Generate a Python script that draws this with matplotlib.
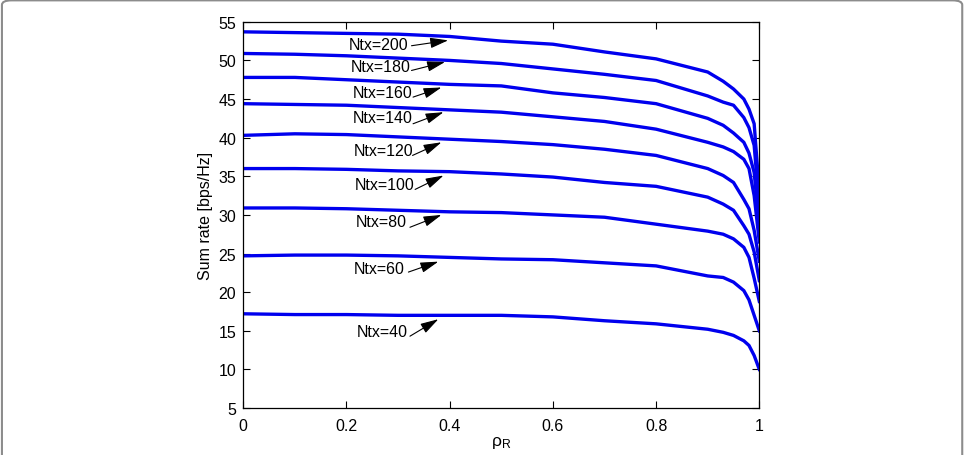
import matplotlib
matplotlib.use("Agg")
import matplotlib.pyplot as plt
from matplotlib.patches import FancyBboxPatch

plt.rcParams['font.family'] = ['Liberation Sans', 'DejaVu Sans']
plt.rcParams['mathtext.fontset'] = 'custom'
plt.rcParams['mathtext.rm'] = 'Liberation Sans'
plt.rcParams['mathtext.it'] = 'Liberation Sans:italic'

# rho_R grid
rho = [0, 0.1, 0.2, 0.3, 0.4, 0.5, 0.6, 0.7, 0.8, 0.9, 0.93, 0.95, 0.97, 0.98, 0.99, 1.0]

rate_200 = [53.7, 53.6, 53.5, 53.4, 53.1, 52.5, 52.1, 51.1, 50.2, 48.5, 47.3, 46.3, 45.0, 43.7, 41.8, 33.0]
rate_180 = [50.9, 50.8, 50.6, 50.3, 50.0, 49.6, 48.9, 48.2, 47.4, 45.4, 44.6, 44.2, 42.6, 41.3, 39.0, 31.0]
rate_160 = [47.8, 47.8, 47.5, 47.2, 46.9, 46.7, 45.8, 45.2, 44.4, 42.5, 41.6, 40.6, 39.4, 38.0, 35.5, 28.5]
rate_140 = [44.4, 44.3, 44.2, 43.9, 43.6, 43.3, 42.7, 42.1, 41.1, 39.4, 38.8, 38.2, 37.2, 36.0, 32.5, 26.5]
rate_120 = [40.3, 40.5, 40.4, 40.1, 39.8, 39.5, 39.1, 38.5, 37.7, 36.0, 35.1, 34.2, 32.0, 30.8, 28.0, 24.0]
rate_100 = [36.0, 36.0, 35.9, 35.7, 35.6, 35.3, 34.9, 34.2, 33.7, 32.3, 31.4, 30.6, 28.6, 27.5, 25.2, 21.5]
rate_80 = [30.9, 30.9, 30.8, 30.6, 30.4, 30.3, 30.0, 29.7, 28.8, 27.9, 27.5, 26.9, 25.8, 24.5, 21.8, 18.8]
rate_60 = [24.7, 24.8, 24.8, 24.7, 24.5, 24.3, 24.2, 23.8, 23.4, 22.1, 21.9, 21.3, 20.2, 19.0, 17.0, 15.0]
rate_40 = [17.2, 17.1, 17.1, 17.0, 17.0, 17.0, 16.8, 16.3, 15.9, 15.2, 14.8, 14.4, 13.7, 13.1, 11.8, 10.0]

curves = [rate_200, rate_180, rate_160, rate_140, rate_120, rate_100, rate_80, rate_60, rate_40]
labels = ["Ntx=200", "Ntx=180", "Ntx=160", "Ntx=140", "Ntx=120", "Ntx=100", "Ntx=80", "Ntx=60", "Ntx=40"]

# annotation text centres and arrow tail/head (data coords)
text_xy = [(0.263, 52.0), (0.267, 49.2), (0.270, 45.9), (0.271, 42.6), (0.271, 38.3),
           (0.273, 34.0), (0.267, 29.1), (0.264, 23.1), (0.269, 14.95)]
tail_xy = [(0.326, 51.9), (0.326, 48.7), (0.329, 45.25), (0.329, 41.8), (0.328, 37.7),
           (0.333, 33.3), (0.323, 28.4), (0.320, 22.6), (0.323, 14.3)]
head_xy = [(0.397, 52.6), (0.391, 49.8), (0.384, 46.5), (0.388, 43.3), (0.384, 39.4),
           (0.388, 35.1), (0.384, 30.0), (0.378, 23.95), (0.378, 16.5)]

fig = plt.figure(figsize=(9.7, 4.56), dpi=100)
ax = fig.add_axes([0.2508, 0.103, 0.532, 0.847])

for r in curves:
    ax.plot(rho, r, color='#0000ee', lw=2.4, solid_joinstyle='round')

for lab, t, a, h in zip(labels, text_xy, tail_xy, head_xy):
    ax.text(t[0], t[1], lab, fontsize=11.5, ha='center', va='center')
    ax.annotate('', xy=h, xytext=a,
                arrowprops=dict(arrowstyle='-|>,head_length=1.1,head_width=0.32',
                                color='black', lw=0.8, shrinkA=0, shrinkB=0))

ax.set_xlim(0, 1)
ax.set_ylim(5, 55)
ax.set_xticks([0, 0.2, 0.4, 0.6, 0.8, 1])
ax.set_xticklabels(['0', '0.2', '0.4', '0.6', '0.8', '1'])
ax.set_yticks(range(5, 56, 5))
ax.tick_params(direction='in', top=True, right=True, length=5, width=0.8,
               labelsize=11.5, pad=5)
ax.tick_params(axis='x', pad=7)
for s in ax.spines.values():
    s.set_linewidth(0.9)

ax.set_xlabel(r'ρ$_{\mathrm{R}}$', fontsize=12.5, labelpad=1)
ax.set_ylabel('Sum rate [bps/Hz]', fontsize=11.5, labelpad=4)

# rounded border round the figure
border = FancyBboxPatch((0.002, -0.05), 0.99, 1.047,
                        boxstyle='round,pad=0,rounding_size=0.01',
                        transform=fig.transFigure, fill=False,
                        edgecolor='#8c8c8c', lw=1.5, clip_on=False)
fig.patches.append(border)

fig.savefig('out.png', dpi=100)
